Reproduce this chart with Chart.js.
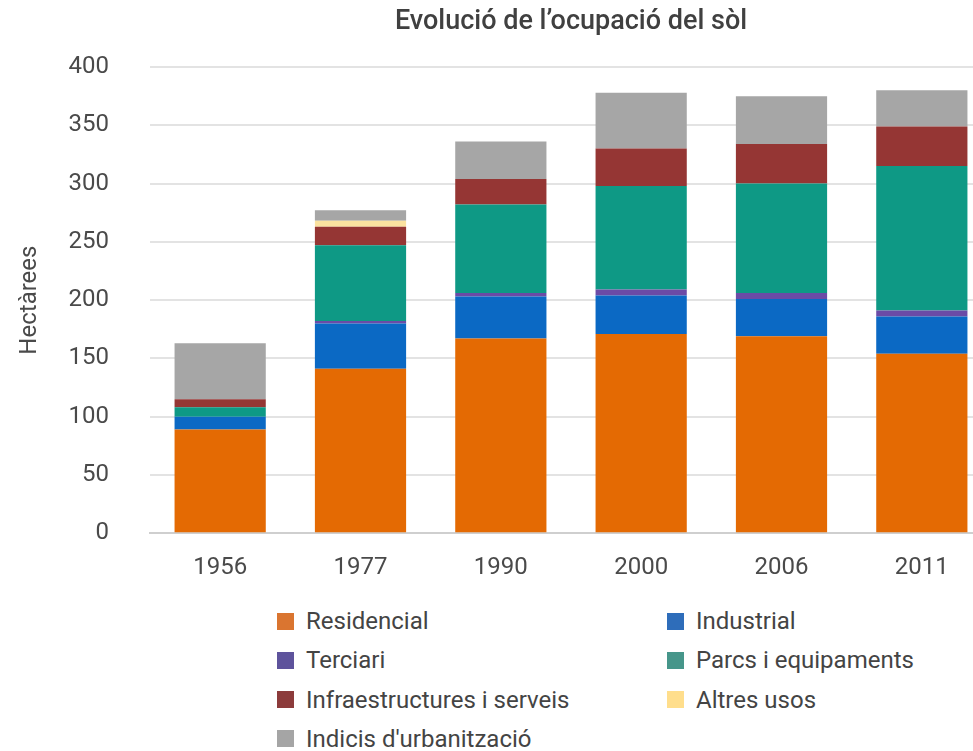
<!DOCTYPE html>
<html>
<head>
<meta charset="utf-8">
<script src="https://cdn.jsdelivr.net/npm/chart.js@4"></script>
<style>
    html, body { margin: 0; padding: 0; background: #fff; overflow: hidden; }
    body { width: 973px; height: 751px; position: relative; font-family: Roboto, sans-serif; }
    #wrap { position: absolute; left: 0; top: 0; width: 992px; height: 602px; }
    #legend { position: absolute; left: 277px; top: 607px; width: 700px; }
    .item { position: absolute; display: flex; align-items: center; font-size: 24px; color: #444; white-space: nowrap; }
    .box { width: 17px; height: 17px; margin-right: 12px; }
</style>
</head>
<body>
<div id="wrap"><canvas id="chart"></canvas></div>
<div id="legend"></div>
<script>
// Dades llegides del gràfic (hectàrees)
const anys = ['1956', '1977', '1990', '2000', '2006', '2011'];
const residencial   = [89, 141, 167, 171, 169, 154];
const industrial    = [11, 39, 36, 33, 32, 32];
const terciari      = [0, 2, 3, 5, 5, 5];
const parcs         = [8, 65, 76, 89, 94, 124];
const infraestructures = [7, 16, 22, 32, 34, 34];
const altres        = [0, 5, 0, 0, 0, 0];
const indicis       = [48, 9, 32, 48, 41, 31];
const yTicks = [0, 50, 100, 150, 200, 250, 300, 350, 400];

const series = [
    { label: 'Residencial', data: residencial, color: '#E46A03', legend: '#DA7530' },
    { label: 'Industrial', data: industrial, color: '#0B69C4', legend: '#2E6DBA' },
    { label: 'Terciari', data: terciari, color: '#6B4BA6', legend: '#5E539C' },
    { label: 'Parcs i equipaments', data: parcs, color: '#0E9985', legend: '#46968A' },
    { label: 'Infraestructures i serveis', data: infraestructures, color: '#953634', legend: '#8C3B3B' },
    { label: 'Altres usos', data: altres, color: '#FBE2A0', legend: '#FFDE8C' },
    { label: "Indicis d'urbanització", data: indicis, color: '#A6A6A6', legend: '#A5A5A5' }
];

const font = { family: 'Roboto', size: 24 };

new Chart(document.getElementById('chart'), {
    type: 'bar',
    data: {
        labels: anys,
        datasets: series.map(s => ({
            label: s.label,
            data: s.data,
            backgroundColor: s.color,
            borderWidth: 0,
            barPercentage: 0.65,
            categoryPercentage: 1
        }))
    },
    options: {
        responsive: true,
        maintainAspectRatio: false,
        animation: false,
        layout: { padding: 0 },
        plugins: {
            legend: { display: false },
            tooltip: { enabled: false },
            title: {
                display: true,
                text: 'Evolució de l’ocupació del sòl',
                color: '#404040',
                font: { family: 'Roboto', size: 27, weight: '500' },
                padding: { top: 6, bottom: 28.6 },
                align: 'center',
                fullSize: false
            }
        },
        scales: {
            x: {
                stacked: true,
                grid: { display: false, drawTicks: false },
                border: { display: true, color: '#cfcfcf', width: 2 },
                ticks: { color: '#4a4a4a', font: font, padding: 20 }
            },
            y: {
                stacked: true,
                min: 0,
                max: 400,
                afterBuildTicks: axis => { axis.ticks = yTicks.map(v => ({ value: v })); },
                afterFit: axis => { axis.width = 150; },
                grid: { color: '#e3e3e3', lineWidth: 2, drawTicks: false },
                border: { display: false },
                ticks: { color: '#4a4a4a', font: font, padding: 41 },
                title: {
                    display: true,
                    text: 'Hectàrees',
                    color: '#4a4a4a',
                    font: font,
                    padding: { top: 16, bottom: 0 }
                }
            }
        }
    }
});

// Llegenda en dues columnes
const legendDiv = document.getElementById('legend');
legendDiv.innerHTML = series.map((s, i) => {
    const col = i % 2, row = Math.floor(i / 2);
    return `<div class="item" style="left:${col * 390}px;top:${row * 39.3}px;">
        <span class="box" style="background:${s.legend}"></span><span>${s.label}</span></div>`;
}).join('');
</script>
</body>
</html>
